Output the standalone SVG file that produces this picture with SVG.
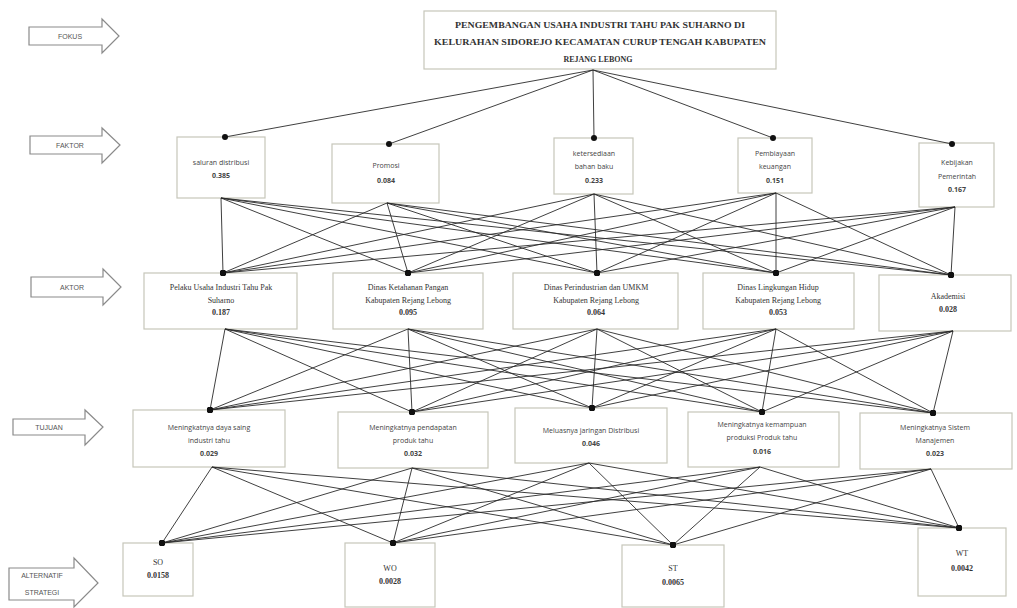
<svg xmlns="http://www.w3.org/2000/svg" width="1017" height="608" viewBox="0 0 1017 608">
<defs>
<marker id="dot" viewBox="0 0 6 6" refX="3" refY="3" markerWidth="6" markerHeight="6" markerUnits="userSpaceOnUse"><circle cx="3" cy="3" r="3" fill="#111"/></marker>
<style>
.box{fill:#fff;stroke:#c6c6ba;stroke-width:1.2}
.arr{fill:#fff;stroke:#8a8a8a;stroke-width:1.2}
.lbl{font-family:"Liberation Sans",Arial,sans-serif;font-size:7px;fill:#555;text-anchor:middle}
.sans{font-family:"Open Sans","Liberation Sans",sans-serif;font-size:7px;fill:#444;text-anchor:middle}
.serif{font-family:"Liberation Serif","Times New Roman",serif;font-size:8px;fill:#333;text-anchor:middle}
.val{font-weight:bold}
.title{font-family:"Liberation Serif","Times New Roman",serif;font-size:8px;font-weight:bold;fill:#333;text-anchor:middle}
.c line{stroke:#2a2a2a;stroke-width:0.9;marker-end:url(#dot)}
</style>
</defs>
<rect width="1017" height="608" fill="#fff"/>

<g id="labels">
<g id="lbl-fokus"><polygon class="arr" points="29,27 102,27 102,19 119,36 102,53 102,45 29,45"/><text class="lbl" x="70" y="39">FOKUS</text></g>
<g id="lbl-faktor"><polygon class="arr" points="30,136 102,136 102,128 120,145 102,163 102,154 30,154"/><text class="lbl" x="70" y="148">FAKTOR</text></g>
<g id="lbl-aktor"><polygon class="arr" points="31,277 103,277 103,269 121,287 103,305 103,297 31,297"/><text class="lbl" x="72" y="290">AKTOR</text></g>
<g id="lbl-tujuan"><polygon class="arr" points="13,419 85,419 85,410 103,427 85,445 85,435 13,435"/><text class="lbl" x="49" y="430">TUJUAN</text></g>
<g id="lbl-alt"><polygon class="arr" points="9,568 74,568 74,558 98,583 74,607 74,600 9,600"/><text class="lbl" x="42" y="578">ALTERNATIF</text><text class="lbl" x="42" y="595">STRATEGI</text></g>
</g>

<g id="fokus">
<rect class="box" x="424" y="11" width="352" height="58"/>
<text class="title" x="600" y="28" textLength="290" lengthAdjust="spacingAndGlyphs">PENGEMBANGAN  USAHA  INDUSTRI  TAHU  PAK  SUHARNO  DI</text>
<text class="title" x="600" y="45" textLength="332" lengthAdjust="spacingAndGlyphs">KELURAHAN  SIDOREJO  KECAMATAN  CURUP  TENGAH  KABUPATEN</text>
<text class="title" x="598" y="62">REJANG  LEBONG</text>
</g>

<g id="f1"><rect class="box" x="177" y="137" width="88" height="61"/><text class="sans" x="221" y="165">saluran distribusi</text><text class="sans val" x="221" y="178">0.385</text></g>
<g id="f2"><rect class="box" x="332" y="144" width="107" height="59"/><text class="sans" x="386" y="168">Promosi</text><text class="sans val" x="386" y="183">0.084</text></g>
<g id="f3"><rect class="box" x="554" y="138" width="79" height="56"/><text class="sans" x="594" y="156">ketersediaan</text><text class="sans" x="594" y="169">bahan baku</text><text class="sans val" x="594" y="183">0.233</text></g>
<g id="f4"><rect class="box" x="738" y="138" width="74" height="55"/><text class="sans" x="775" y="156">Pembiayaan</text><text class="sans" x="775" y="169">keuangan</text><text class="sans val" x="775" y="183">0.151</text></g>
<g id="f5"><rect class="box" x="919" y="143" width="75" height="64"/><text class="sans" x="957" y="165">Kebijakan</text><text class="sans" x="957" y="179">Pemerintah</text><text class="sans val" x="957" y="192">0.167</text></g>

<g id="a1"><rect class="box" x="144" y="273" width="153" height="56"/><text class="serif" x="221" y="290">Pelaku  Usaha Industri Tahu Pak</text><text class="serif" x="221" y="303">Suharno</text><text class="serif val" x="221" y="315">0.187</text></g>
<g id="a2"><rect class="box" x="333" y="273" width="150" height="56"/><text class="serif" x="408" y="290">Dinas Ketahanan Pangan</text><text class="serif" x="408" y="303">Kabupaten Rejang Lebong</text><text class="serif val" x="408" y="315">0.095</text></g>
<g id="a3"><rect class="box" x="513" y="273" width="165" height="56"/><text class="serif" x="596" y="290">Dinas Perindustrian dan UMKM</text><text class="serif" x="596" y="303">Kabupaten Rejang Lebong</text><text class="serif val" x="596" y="315">0.064</text></g>
<g id="a4"><rect class="box" x="703" y="273" width="151" height="56"/><text class="serif" x="778" y="290">Dinas Lingkungan Hidup</text><text class="serif" x="778" y="303">Kabupaten Rejang Lebong</text><text class="serif val" x="778" y="315">0.053</text></g>
<g id="a5"><rect class="box" x="879" y="275" width="132" height="56"/><text class="serif" x="948" y="299">Akademisi</text><text class="serif val" x="948" y="312">0.028</text></g>

<g id="t1"><rect class="box" x="133" y="410" width="152" height="57"/><text class="sans" x="209" y="430">Meningkatnya daya saing</text><text class="sans" x="209" y="443">industri tahu</text><text class="sans val" x="209" y="456">0.029</text></g>
<g id="t2"><rect class="box" x="338" y="412" width="150" height="56"/><text class="sans" x="413" y="430">Meningkatnya pendapatan</text><text class="sans" x="413" y="443">produk tahu</text><text class="sans val" x="413" y="456">0.032</text></g>
<g id="t3"><rect class="box" x="515" y="408" width="152" height="55"/><text class="sans" x="591" y="433">Meluasnya jaringan Distribusi</text><text class="sans val" x="591" y="446">0.046</text></g>
<g id="t4"><rect class="box" x="688" y="412" width="151" height="55"/><text class="sans" x="762" y="427">Meningkatnya kemampuan</text><text class="sans" x="762" y="440">produksi Produk tahu</text><text class="sans val" x="762" y="454">0.016</text></g>
<g id="t5"><rect class="box" x="860" y="413" width="152" height="56"/><text class="sans" x="935" y="430">Meningkatnya Sistem</text><text class="sans" x="935" y="443">Manajemen</text><text class="sans val" x="935" y="456">0.023</text></g>

<g id="so"><rect class="box" x="123" y="543" width="70" height="53"/><text class="serif" x="158" y="565">SO</text><text class="serif val" x="158" y="578">0.0158</text></g>
<g id="wo"><rect class="box" x="345" y="543" width="90" height="64"/><text class="serif" x="390" y="571">WO</text><text class="serif val" x="390" y="584">0.0028</text></g>
<g id="st"><rect class="box" x="622" y="545" width="102" height="62"/><text class="serif" x="673" y="571">ST</text><text class="serif val" x="673" y="585">0.0065</text></g>
<g id="wt"><rect class="box" x="918" y="528" width="88" height="68"/><text class="serif" x="962" y="556">WT</text><text class="serif val" x="962" y="571">0.0042</text></g>

<g class="c" id="connectors">
<line x1="593" y1="70" x2="225" y2="137"/>
<line x1="593" y1="70" x2="389" y2="144"/>
<line x1="593" y1="70" x2="594" y2="138"/>
<line x1="593" y1="70" x2="773" y2="138"/>
<line x1="593" y1="70" x2="952" y2="144"/>

<line x1="221" y1="198" x2="223" y2="273"/>
<line x1="221" y1="198" x2="408" y2="273"/>
<line x1="221" y1="198" x2="597" y2="273"/>
<line x1="221" y1="198" x2="776" y2="273"/>
<line x1="221" y1="198" x2="951" y2="275"/>
<line x1="387" y1="203" x2="223" y2="273"/>
<line x1="387" y1="203" x2="408" y2="273"/>
<line x1="387" y1="203" x2="597" y2="273"/>
<line x1="387" y1="203" x2="776" y2="273"/>
<line x1="387" y1="203" x2="951" y2="275"/>
<line x1="594" y1="194" x2="223" y2="273"/>
<line x1="594" y1="194" x2="408" y2="273"/>
<line x1="594" y1="194" x2="597" y2="273"/>
<line x1="594" y1="194" x2="776" y2="273"/>
<line x1="594" y1="194" x2="951" y2="275"/>
<line x1="776" y1="193" x2="223" y2="273"/>
<line x1="776" y1="193" x2="408" y2="273"/>
<line x1="776" y1="193" x2="597" y2="273"/>
<line x1="776" y1="193" x2="776" y2="273"/>
<line x1="776" y1="193" x2="951" y2="275"/>
<line x1="955" y1="207" x2="223" y2="273"/>
<line x1="955" y1="207" x2="408" y2="273"/>
<line x1="955" y1="207" x2="597" y2="273"/>
<line x1="955" y1="207" x2="776" y2="273"/>
<line x1="955" y1="207" x2="951" y2="275"/>

<line x1="225" y1="329" x2="210" y2="410"/>
<line x1="225" y1="329" x2="412" y2="412"/>
<line x1="225" y1="329" x2="592" y2="408"/>
<line x1="225" y1="329" x2="762" y2="412"/>
<line x1="225" y1="329" x2="933" y2="413"/>
<line x1="408" y1="329" x2="210" y2="410"/>
<line x1="408" y1="329" x2="412" y2="412"/>
<line x1="408" y1="329" x2="592" y2="408"/>
<line x1="408" y1="329" x2="762" y2="412"/>
<line x1="408" y1="329" x2="933" y2="413"/>
<line x1="597" y1="329" x2="210" y2="410"/>
<line x1="597" y1="329" x2="412" y2="412"/>
<line x1="597" y1="329" x2="592" y2="408"/>
<line x1="597" y1="329" x2="762" y2="412"/>
<line x1="597" y1="329" x2="933" y2="413"/>
<line x1="776" y1="329" x2="210" y2="410"/>
<line x1="776" y1="329" x2="412" y2="412"/>
<line x1="776" y1="329" x2="592" y2="408"/>
<line x1="776" y1="329" x2="762" y2="412"/>
<line x1="776" y1="329" x2="933" y2="413"/>
<line x1="953" y1="331" x2="210" y2="410"/>
<line x1="953" y1="331" x2="412" y2="412"/>
<line x1="953" y1="331" x2="592" y2="408"/>
<line x1="953" y1="331" x2="762" y2="412"/>
<line x1="953" y1="331" x2="933" y2="413"/>

<line x1="212" y1="467" x2="162" y2="543"/>
<line x1="212" y1="467" x2="393" y2="543"/>
<line x1="212" y1="467" x2="673" y2="545"/>
<line x1="212" y1="467" x2="959" y2="528"/>
<line x1="412" y1="468" x2="162" y2="543"/>
<line x1="412" y1="468" x2="393" y2="543"/>
<line x1="412" y1="468" x2="673" y2="545"/>
<line x1="412" y1="468" x2="959" y2="528"/>
<line x1="589" y1="463" x2="162" y2="543"/>
<line x1="589" y1="463" x2="393" y2="543"/>
<line x1="589" y1="463" x2="673" y2="545"/>
<line x1="589" y1="463" x2="959" y2="528"/>
<line x1="760" y1="467" x2="162" y2="543"/>
<line x1="760" y1="467" x2="393" y2="543"/>
<line x1="760" y1="467" x2="673" y2="545"/>
<line x1="760" y1="467" x2="959" y2="528"/>
<line x1="931" y1="469" x2="162" y2="543"/>
<line x1="931" y1="469" x2="393" y2="543"/>
<line x1="931" y1="469" x2="673" y2="545"/>
<line x1="931" y1="469" x2="959" y2="528"/>
</g>
</svg>
